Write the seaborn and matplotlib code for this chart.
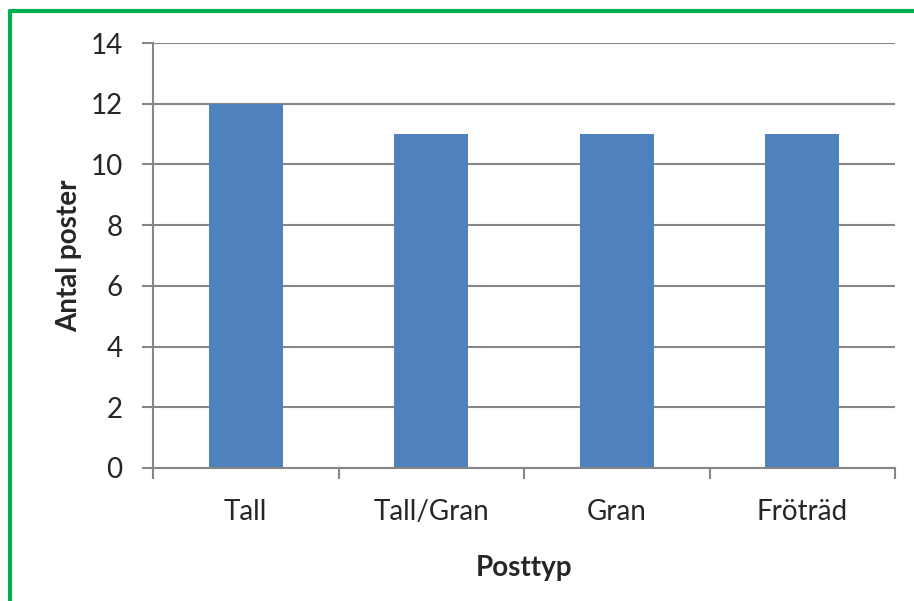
import matplotlib
matplotlib.use("Agg")
import matplotlib.pyplot as plt
import seaborn as sns
import pandas as pd
from matplotlib.lines import Line2D

categories = ["Tall", "Tall/Gran", "Gran", "Fröträd"]
values = [12, 11, 11, 11]
yticks = [0, 2, 4, 6, 8, 10, 12, 14]

sns.set_theme(style="white")
plt.rcParams['font.family'] = ['Lato', 'DejaVu Sans']

df = pd.DataFrame({"Posttyp": categories, "Antal poster": values})

fig = plt.figure(figsize=(9.14, 6.01), dpi=100)
ax = fig.add_axes([153/914, 1 - 468/601, (895-153)/914, (468-43)/601])

sns.barplot(data=df, x="Posttyp", y="Antal poster", color="#4F81BD",
            saturation=1, width=0.4, ax=ax, edgecolor="none")

FS = 20
ax.set_ylim(0, 14)
ax.set_xlim(-0.5, 3.5)
ax.set_yticks(yticks)
ax.set_yticklabels([str(t) for t in yticks], fontsize=FS)
ax.yaxis.grid(True, color="#868686", linewidth=1.5)
ax.set_axisbelow(True)
for s in ["top", "right"]:
    ax.spines[s].set_visible(False)
for s in ["left", "bottom"]:
    ax.spines[s].set_color("#868686")
    ax.spines[s].set_linewidth(1.5)

ax.set_xticks([-0.5, 0.5, 1.5, 2.5, 3.5])
ax.set_xticklabels([])
ax.set_xticks(range(len(categories)), minor=True)
ax.set_xticklabels(categories, minor=True, fontsize=FS)
ax.tick_params(axis="x", which="major", direction="out", length=8, width=1.5,
               color="#868686", bottom=True)
ax.tick_params(axis="x", which="minor", length=0, pad=22)
ax.tick_params(axis="y", direction="out", length=8, width=1.5,
               color="#868686", left=True, pad=14)

ax.set_xlabel("Posttyp", fontsize=FS, fontweight="bold", labelpad=22)
ax.set_ylabel("Antal poster", fontsize=FS, fontweight="bold", labelpad=6)

# green frame
fig.add_artist(Line2D([10/914, 10/914], [0, 1 - 11/601], color="#00B050",
                      linewidth=3, transform=fig.transFigure))
fig.add_artist(Line2D([10/914, 1], [1 - 11/601, 1 - 11/601], color="#00B050",
                      linewidth=3, transform=fig.transFigure))

fig.savefig("out.png", dpi=100, facecolor="white")
